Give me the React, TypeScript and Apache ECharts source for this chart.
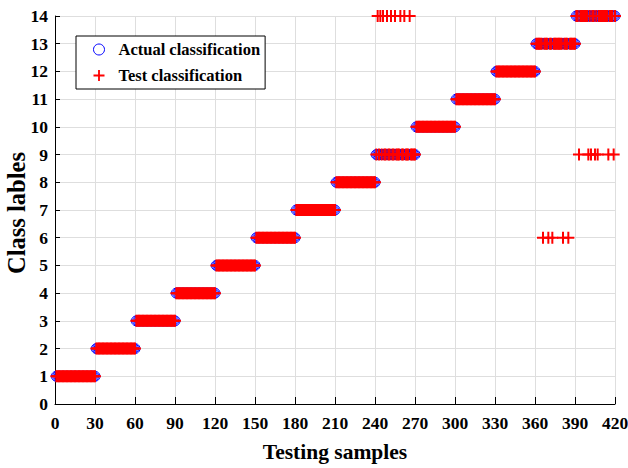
import React, { useEffect, useRef } from "react";
import * as echarts from "echarts";

// Class labels (1..14), 30 testing samples per class
const classLabels = [1, 2, 3, 4, 5, 6, 7, 8, 9, 10, 11, 12, 13, 14];
const samplesPerClass = 30;

// Misclassified samples: sample index and predicted class
const misSamples = [242, 244, 246, 249, 252, 255, 259, 262, 266, 366, 370, 373, 381, 385, 393, 400, 402, 405, 407, 415, 419];
const misPredicted = [14, 14, 14, 14, 14, 14, 14, 14, 14, 6, 6, 6, 6, 6, 9, 9, 9, 9, 9, 9, 9];

const xTicks = [0, 30, 60, 90, 120, 150, 180, 210, 240, 270, 300, 330, 360, 390, 420];
const yTicks = [0, 1, 2, 3, 4, 5, 6, 7, 8, 9, 10, 11, 12, 13, 14];

const FONT = "'Liberation Serif', 'Times New Roman', serif";
const PLUS = "path://M-1,-6H1V-1H6V1H1V6H-1V1H-6V-1H-1Z";

export default function App() {
  const ref = useRef<HTMLDivElement>(null);
  useEffect(() => {
    document.body.style.margin = "0";
    if (!ref.current) return;
    const chart = echarts.init(ref.current, undefined, { renderer: "svg" });

    const actual: number[][] = [];
    const test: number[][] = [];
    classLabels.forEach((c, k) => {
      for (let j = 1; j <= samplesPerClass; j++) {
        const s = k * samplesPerClass + j;
        actual.push([s, c]);
        const m = misSamples.indexOf(s);
        test.push([s, m >= 0 ? misPredicted[m] : c]);
      }
    });

    chart.setOption({
      animation: false,
      backgroundColor: "#ffffff",
      grid: { left: 55, top: 16, width: 560, height: 388, containLabel: false, outerBoundsMode: "none" },
      graphic: [
        {
          type: "text",
          x: 16,
          y: 213,
          rotation: Math.PI / 2,
          style: {
            text: "Class lables",
            font: `bold 24.5px ${FONT}`,
            fill: "#000",
            align: "center",
            verticalAlign: "middle",
          },
        },
      ],
      legend: {
        left: 76,
        top: 36,
        orient: "vertical",
        backgroundColor: "#ffffff",
        borderColor: "#000000",
        borderWidth: 1,
        borderRadius: 0,
        padding: [5, 5, 5, 17],
        itemGap: 9,
        itemWidth: 11,
        itemHeight: 11,
        textStyle: { fontFamily: FONT, fontWeight: "bold", fontSize: 16.5, color: "#000", padding: [0, 0, 0, 9] },
        data: [
          { name: "Actual classification", itemStyle: { borderWidth: 1 } },
          { name: "Test classification" },
        ],
      },
      xAxis: {
        type: "value",
        min: 0,
        max: 420,
        interval: 30,
        name: "Testing samples",
        nameLocation: "middle",
        nameGap: 37,
        nameTextStyle: { fontFamily: FONT, fontWeight: "bold", fontSize: 21.5, color: "#000" },
        axisLine: { show: true, lineStyle: { color: "#000", width: 1 } },
        axisTick: { show: true, inside: true, length: 7, lineStyle: { color: "#000" } },
        axisLabel: {
          margin: 10,
          fontFamily: FONT,
          fontWeight: "bold",
          fontSize: 17.5,
          color: "#000",
          formatter: (v: number) => (xTicks.indexOf(v) >= 0 ? String(v) : ""),
        },
        splitLine: { show: true, lineStyle: { color: "#dedede", width: 1 } },
      },
      yAxis: {
        type: "value",
        min: 0,
        max: 14,
        interval: 1,
        axisLine: { show: true, lineStyle: { color: "#000", width: 1 } },
        axisTick: { show: true, inside: true, length: 5, lineStyle: { color: "#000" } },
        axisLabel: {
          margin: 7,
          fontFamily: FONT,
          fontWeight: "bold",
          fontSize: 17.5,
          color: "#000",
          formatter: (v: number) => (yTicks.indexOf(v) >= 0 ? String(v) : ""),
        },
        splitLine: { show: true, lineStyle: { color: "#dedede", width: 1 } },
      },
      series: [
        {
          name: "Actual classification",
          type: "scatter",
          data: actual,
          symbol: "circle",
          symbolSize: 10,
          itemStyle: { color: "rgba(0,0,0,0)", borderColor: "#0000ff", borderWidth: 1, opacity: 1 },
          emphasis: { disabled: true },
        },
        {
          name: "Test classification",
          type: "scatter",
          data: test,
          symbol: PLUS,
          symbolSize: 12,
          itemStyle: { color: "#ff0000", opacity: 1 },
          emphasis: { disabled: true },
        },
      ],
    });
    return () => chart.dispose();
  }, []);
  return <div ref={ref} style={{ width: 628, height: 468 }} />;
}
